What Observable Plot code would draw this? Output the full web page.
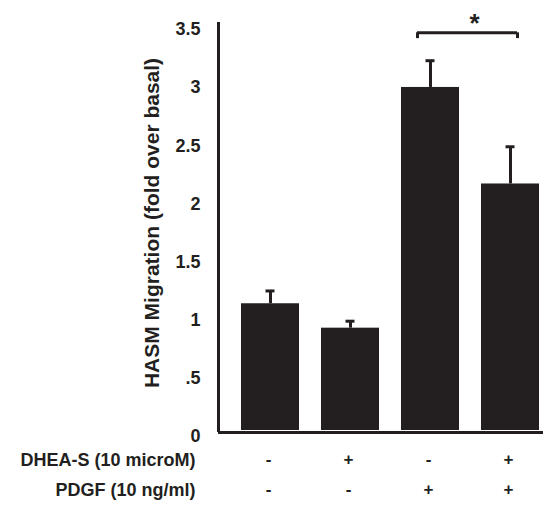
<!DOCTYPE html>
<html>
<head>
<meta charset="utf-8">
<script src="https://cdn.jsdelivr.net/npm/d3@7"></script>
<script src="https://cdn.jsdelivr.net/npm/@observablehq/plot@0.6"></script>
<style>
  html, body { margin: 0; padding: 0; background: #fff; }
  #chart svg { display: block; }
</style>
</head>
<body>
<div id="chart"></div>
<script>
// ---- data ----
const conditions = ["c1", "c2", "c3", "c4"];
const dheaSigns = ["-", "+", "-", "+"];
const pdgfSigns = ["-", "-", "+", "+"];
const migration = [1.09, 0.88, 2.95, 2.12];
const errorTop = [1.20, 0.94, 3.18, 2.44];
const yTicks = [0, 0.5, 1, 1.5, 2, 2.5, 3, 3.5];
const yTickLabels = ["0", ".5", "1", "1.5", "2", "2.5", "3", "3.5"];
const rowLabels = ["DHEA-S (10 microM)", "PDGF (10 ng/ml)"];
const yTitle = "HASM Migration (fold over basal)";
const bracketPair = ["c3", "c4"];
const bracketTop = 3.42;
const bracketEnd = 3.37;
const starLabel = "*";

const ink = "#231f20";
const font = "'Liberation Sans', Arial, Helvetica, sans-serif";

const rows = conditions.map((c, i) => ({
  cond: c, value: migration[i], upper: errorTop[i], dhea: dheaSigns[i], pdgf: pdgfSigns[i]
}));

const chart = Plot.plot({
  width: 543,
  height: 507,
  marginTop: 23,
  marginBottom: 77,
  marginLeft: 218,
  marginRight: 0,
  style: { fontFamily: font, color: ink, background: "#fff" },
  x: { domain: conditions, type: "band", paddingInner: 0.275, paddingOuter: 0.16875, align: 0.852, axis: null },
  y: { domain: [0, 3.5], axis: null },
  marks: [
    Plot.barY(rows, { x: "cond", y: "value", fill: ink }),
    Plot.ruleX(rows, { x: "cond", y1: "value", y2: "upper", stroke: ink, strokeWidth: 3 }),
    Plot.tickY(rows, { x: "cond", y: "upper", stroke: ink, strokeWidth: 3, insetLeft: 24.5, insetRight: 24.5 }),
    // axes lines
    Plot.frame({ anchor: "left", stroke: ink, strokeWidth: 3 }),
    Plot.ruleY([0], { stroke: ink, strokeWidth: 3, dy: 2 }),
    // y tick labels
    Plot.text(yTicks, {
      y: d => d, text: (d, i) => yTickLabels[i], frameAnchor: "left",
      dx: -18, dy: 6, textAnchor: "end", fontSize: 18, fontWeight: "bold", fill: ink
    }),
    // y title
    Plot.text([yTitle], {
      text: d => d, frameAnchor: "left", rotate: -90, dx: -66, dy: -4,
      textAnchor: "middle", fontSize: 21, fontWeight: "bold", fill: ink
    }),
    // condition signs
    Plot.text(rows, { x: "cond", text: "dhea", frameAnchor: "bottom", dx: -2, dy: 34, fontSize: 17, fontWeight: "bold", fill: ink }),
    Plot.text(rows, { x: "cond", text: "pdgf", frameAnchor: "bottom", dx: -2, dy: 64, fontSize: 17, fontWeight: "bold", fill: ink }),
    // row labels
    Plot.text([rowLabels[0]], { text: d => d, frameAnchor: "bottom-left", dx: -23, dy: 35, textAnchor: "end", fontSize: 18, fontWeight: "bold", fill: ink }),
    Plot.text([rowLabels[1]], { text: d => d, frameAnchor: "bottom-left", dx: -23, dy: 65, textAnchor: "end", fontSize: 18, fontWeight: "bold", fill: ink }),
    // significance bracket
    Plot.ruleY([bracketTop], { x1: () => bracketPair[0], x2: () => bracketPair[1], y: d => d, stroke: ink, strokeWidth: 3, insetLeft: 16, insetRight: 22 }),
    Plot.ruleX([bracketPair[0]], { x: d => d, y1: bracketTop, y2: bracketEnd, stroke: ink, strokeWidth: 3, dx: -13 }),
    Plot.ruleX([bracketPair[1]], { x: d => d, y1: bracketTop, y2: bracketEnd, stroke: ink, strokeWidth: 3, dx: 7 }),
    Plot.text([starLabel], { x: [bracketPair[1]], y: [3.5], text: d => d, dx: -36, fontSize: 26, fontWeight: "bold", fill: ink })
  ]
});

document.getElementById("chart").appendChild(chart);
</script>
</body>
</html>
